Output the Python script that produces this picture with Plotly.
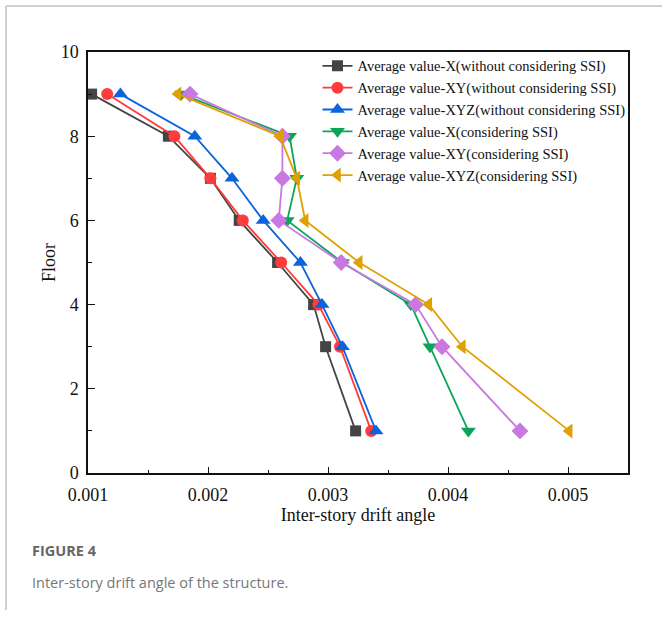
import plotly.graph_objects as go

floors = [9, 8, 7, 6, 5, 4, 3, 1]

x_wo = [0.00103, 0.00167, 0.00202, 0.00226, 0.00258, 0.00288, 0.00298, 0.00323]
xy_wo = [0.00116, 0.00172, 0.00202, 0.00229, 0.00261, 0.00292, 0.00310, 0.00336]
xyz_wo = [0.00127, 0.00189, 0.00220, 0.00246, 0.00277, 0.00295, 0.00312, 0.00340]
x_ssi = [0.00178, 0.00268, 0.00274, 0.00266, 0.00312, 0.00369, 0.00385, 0.00417]
xy_ssi = [0.00185, 0.00262, 0.00262, 0.00259, 0.00311, 0.00373, 0.00395, 0.00460]
xyz_ssi = [0.00175, 0.00260, 0.00274, 0.00281, 0.00326, 0.00384, 0.00412, 0.00501]

names = [
    "Average value-X(without considering SSI)",
    "Average value-XY(without considering SSI)",
    "Average value-XYZ(without considering SSI)",
    "Average value-X(considering SSI)",
    "Average value-XY(considering SSI)",
    "Average value-XYZ(considering SSI)",
]
series = [x_wo, xy_wo, xyz_wo, x_ssi, xy_ssi, xyz_ssi]
colors = ["#444444", "#ff3b3b", "#0a64dc", "#0aa55a", "#c878e0", "#e0a000"]
symbols = ["square", "circle", "triangle-up", "triangle-down", "diamond", "triangle-left"]
sizes = [11, 12, 13, 13, 13, 13]

fig = go.Figure()
for nm, xs, c, s, sz in zip(names, series, colors, symbols, sizes):
    fig.add_trace(go.Scatter(
        x=xs, y=floors, name=nm, legendgroup=nm, mode="lines+markers",
        line=dict(color=c, width=1.8),
        marker=dict(color=c, symbol=s, size=sz, line=dict(width=0)),
    ))

axis_font = dict(family="Liberation Serif", size=18, color="#111111")
fig.update_xaxes(
    range=[0.001, 0.0055], tickvals=[0.001, 0.002, 0.003, 0.004, 0.005],
    ticktext=["0.001", "0.002", "0.003", "0.004", "0.005"],
    ticks="inside", ticklen=6, tickwidth=1.3, tickcolor="#111",
    minor=dict(dtick=0.0005, ticks="inside", ticklen=3, tickwidth=1.3, tickcolor="#111"),
    showline=True, linewidth=1.5, linecolor="#111", mirror=True,
    showgrid=False, zeroline=False, tickfont=axis_font, ticklabelstandoff=5,
    title=dict(text="Inter-story drift angle", font=axis_font, standoff=2),
)
fig.update_yaxes(
    range=[0, 10], dtick=2, tick0=0,
    ticks="inside", ticklen=7, tickwidth=1.3, tickcolor="#111",
    minor=dict(dtick=1, ticks="inside", ticklen=4, tickwidth=1.3, tickcolor="#111"),
    showline=True, linewidth=1.5, linecolor="#111", mirror=True,
    showgrid=False, zeroline=False, tickfont=axis_font, ticklabelstandoff=4,
    title=dict(text="Floor", font=axis_font, standoff=0),
)

fig.update_layout(
    width=662, height=619,
    margin=dict(l=88, r=34, t=52, b=146),
    paper_bgcolor="white", plot_bgcolor="white",
    showlegend=True,
    legend=dict(
        x=0.425, y=1.005, xanchor="left", yanchor="top",
        bgcolor="rgba(0,0,0,0)", borderwidth=0,
        font=dict(family="Liberation Serif", size=14.5, color="#111"),
        traceorder="grouped", tracegroupgap=0,
    ),
)
pw, ph = 540, 421
fig.add_shape(type="line", xref="paper", yref="paper",
              x0=(6-88)/pw, x1=(662-88)/pw + 0.05, y0=(473-6)/ph, y1=(473-6)/ph,
              line=dict(color="#d0d0d0", width=2))
fig.add_shape(type="line", xref="paper", yref="paper",
              x0=(6-88)/pw, x1=(6-88)/pw, y0=(473-610)/ph, y1=(473-6)/ph,
              line=dict(color="#d0d0d0", width=2))

fig.add_annotation(text="<b>FIGURE 4</b>", xref="paper", yref="paper",
                   x=(30-88)/pw, y=(473-550)/ph, xanchor="left", yanchor="middle",
                   showarrow=False,
                   font=dict(family="Open Sans", size=14.5, color="#666666"))
fig.add_annotation(text="Inter-story drift angle of the structure.", xref="paper", yref="paper",
                   x=(30-88)/pw, y=(473-582)/ph, xanchor="left", yanchor="middle",
                   showarrow=False,
                   font=dict(family="Open Sans", size=14.5, color="#777777"))

fig.write_html("out.html")
